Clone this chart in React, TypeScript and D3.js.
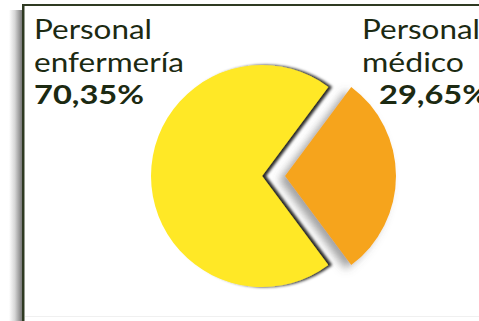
import React from "react";
import * as d3 from "d3";

const categories = ["Personal médico", "Personal enfermería"];
const values = [29.65, 70.35];
const labelLines = [
  ["Personal", "médico", "29,65%"],
  ["Personal", "enfermería", "70,35%"],
];
const colors = ["#F6A41E", "#FFE827"];

const W = 479;
const H = 321;

export default function App() {
  const cx = 262;
  const cy = 176;
  const r = 111;
  const explode = 23;
  const total = d3.sum(values);
  const firstSpan = (values[0] / total) * 2 * Math.PI;
  const start = Math.PI / 2 - firstSpan / 2;
  const pie = d3
    .pie<number>()
    .sort(null)
    .value((d) => d)
    .startAngle(start)
    .endAngle(start + 2 * Math.PI);
  const arcs = pie(values);
  const arc = d3.arc<d3.PieArcDatum<number>>().innerRadius(0).outerRadius(r);

  const textColor = "#1c2a12";
  const font = "Lato, 'Open Sans', sans-serif";

  return (
    <svg
      width={W}
      height={H}
      style={{ position: "absolute", left: 0, top: 0, background: "#fff" }}
    >
      <defs>
        <linearGradient id="lshadow" x1="0" x2="1" y1="0" y2="0">
          <stop offset="0" stopColor="#fff" />
          <stop offset="0.45" stopColor="#d6d6d6" />
          <stop offset="1" stopColor="#7a7a7a" />
        </linearGradient>
        <filter id="yshadow" x="-20%" y="-20%" width="140%" height="140%">
          <feDropShadow dx="4" dy="0" stdDeviation="1.6" floodColor="#000" floodOpacity="0.85" />
        </filter>
        <filter id="oshadow" x="-30%" y="-30%" width="160%" height="160%">
          <feDropShadow dx="-6" dy="4" stdDeviation="4" floodColor="#555" floodOpacity="0.55" />
        </filter>
      </defs>
      <rect x={0} y={0} width={W} height={H} fill="#fff" />
      {/* frame shadow and border */}
      <rect x={9} y={10} width={13} height={H - 10} fill="url(#lshadow)" />
      <rect x={22} y={4} width={W - 22} height={2} fill="#2f3a22" />
      <rect x={22} y={4} width={2.5} height={H - 4} fill="#2f3a22" />
      <rect x={25} y={316} width={W - 25} height={1} fill="#f0f0f0" />

      {/* pie: yellow first, exploded orange on top */}
      {[1, 0].map((i) => {
        const a = arcs[i];
        const mid = (a.startAngle + a.endAngle) / 2;
        const off = i === 0 ? explode : 0;
        const dx = Math.sin(mid) * off;
        const dy = -Math.cos(mid) * off;
        return (
          <path
            key={categories[i]}
            d={arc(a) as string}
            transform={`translate(${cx + dx},${cy + dy})`}
            fill={colors[i]}
            filter={i === 1 ? "url(#yshadow)" : "url(#oshadow)"}
          />
        );
      })}

      {/* labels */}
      <g fill={textColor} fontFamily={font} fontSize={27}>
        <text x={34} y={39} textLength={118} lengthAdjust="spacingAndGlyphs">
          {labelLines[1][0]}
        </text>
        <text x={34} y={72} textLength={150} lengthAdjust="spacingAndGlyphs">
          {labelLines[1][1]}
        </text>
        <text x={34} y={104} fontWeight="bold" textLength={110} lengthAdjust="spacingAndGlyphs">
          {labelLines[1][2]}
        </text>
        <text x={362} y={39} textLength={118} lengthAdjust="spacingAndGlyphs">
          {labelLines[0][0]}
        </text>
        <text x={362} y={72} textLength={102} lengthAdjust="spacingAndGlyphs">
          {labelLines[0][1]}
        </text>
        <text x={379} y={104} fontWeight="bold" textLength={110} lengthAdjust="spacingAndGlyphs">
          {labelLines[0][2]}
        </text>
      </g>
    </svg>
  );
}
